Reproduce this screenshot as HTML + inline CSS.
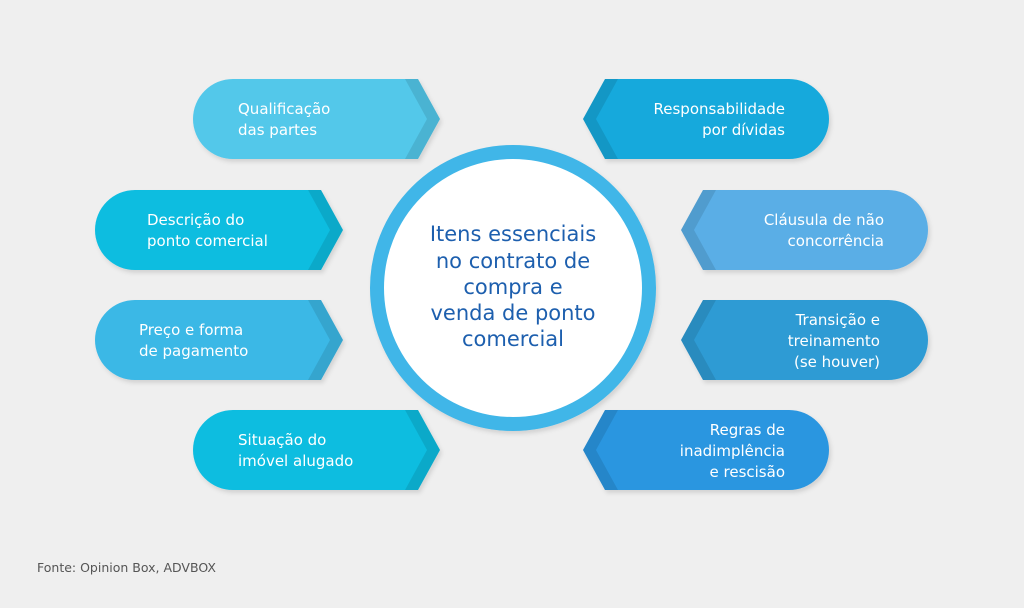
<!DOCTYPE html>
<html><head><meta charset="utf-8"><style>
body{margin:0;background:#efefef;}
svg{display:block}
text{font-family:"DejaVu Sans","Liberation Sans",sans-serif;}
</style></head><body>
<svg width="1024" height="608" viewBox="0 0 1024 608">
<defs>
<filter id="sh" x="-10%" y="-10%" width="120%" height="130%"><feDropShadow dx="2" dy="3" stdDeviation="2" flood-color="#000" flood-opacity="0.12"/></filter>
</defs>
<rect width="1024" height="608" fill="#efefef"/>
<g filter="url(#sh)">
<path d="M233,79 H418 L440,119 L418,159 H233 A40,40 0 0 1 233,79 Z" fill="#52c8ea"/>
<path d="M135,190 H321 L343,230 L321,270 H135 A40,40 0 0 1 135,190 Z" fill="#0bbde0"/>
<path d="M135,300 H321 L343,340 L321,380 H135 A40,40 0 0 1 135,300 Z" fill="#3ab8e6"/>
<path d="M233,410 H418 L440,450 L418,490 H233 A40,40 0 0 1 233,410 Z" fill="#0cbde0"/>
<path d="M789,79 H605 L583,119 L605,159 H789 A40,40 0 0 0 789,79 Z" fill="#16a9dc"/>
<path d="M888,190 H703 L681,230 L703,270 H888 A40,40 0 0 0 888,190 Z" fill="#5aaee6"/>
<path d="M888,300 H703 L681,340 L703,380 H888 A40,40 0 0 0 888,300 Z" fill="#2d9bd4"/>
<path d="M789,410 H605 L583,450 L605,490 H789 A40,40 0 0 0 789,410 Z" fill="#2a96e0"/>
</g>
<g fill="#000" fill-opacity="0.1">
<path d="M405,79 H418 L440,119 L418,159 H405 L427,119 Z"/>
<path d="M308,190 H321 L343,230 L321,270 H308 L330,230 Z"/>
<path d="M308,300 H321 L343,340 L321,380 H308 L330,340 Z"/>
<path d="M405,410 H418 L440,450 L418,490 H405 L427,450 Z"/>
<path d="M618,79 H605 L583,119 L605,159 H618 L596,119 Z"/>
<path d="M716,190 H703 L681,230 L703,270 H716 L694,230 Z"/>
<path d="M716,300 H703 L681,340 L703,380 H716 L694,340 Z"/>
<path d="M618,410 H605 L583,450 L605,490 H618 L596,450 Z"/>
</g>
<g fill="#fff" font-size="15">
<text x="238" y="114">Qualificação</text><text x="238" y="135">das partes</text>
<text x="147" y="225">Descrição do</text><text x="147" y="246">ponto comercial</text>
<text x="139" y="335">Preço e forma</text><text x="139" y="356">de pagamento</text>
<text x="238" y="445">Situação do</text><text x="238" y="466">imóvel alugado</text>
<g text-anchor="end">
<text x="785" y="114">Responsabilidade</text><text x="785" y="135">por dívidas</text>
<text x="884" y="225">Cláusula de não</text><text x="884" y="246">concorrência</text>
<text x="880" y="325">Transição e</text><text x="880" y="346">treinamento</text><text x="880" y="367">(se houver)</text>
<text x="785" y="435">Regras de</text><text x="785" y="456">inadimplência</text><text x="785" y="477">e rescisão</text>
</g>
</g>
<circle cx="513" cy="288" r="136" fill="#fff" stroke="#3fb6e8" stroke-width="14" filter="url(#sh)"/>
<g fill="#1d5fae" font-size="21" text-anchor="middle">
<text x="513" y="241">Itens essenciais</text>
<text x="513" y="268">no contrato de</text>
<text x="513" y="294">compra e</text>
<text x="513" y="320">venda de ponto</text>
<text x="513" y="346">comercial</text>
</g>
<text x="37" y="572" font-size="12.5" fill="#555">Fonte: Opinion Box, ADVBOX</text>
</svg>
</body></html>
